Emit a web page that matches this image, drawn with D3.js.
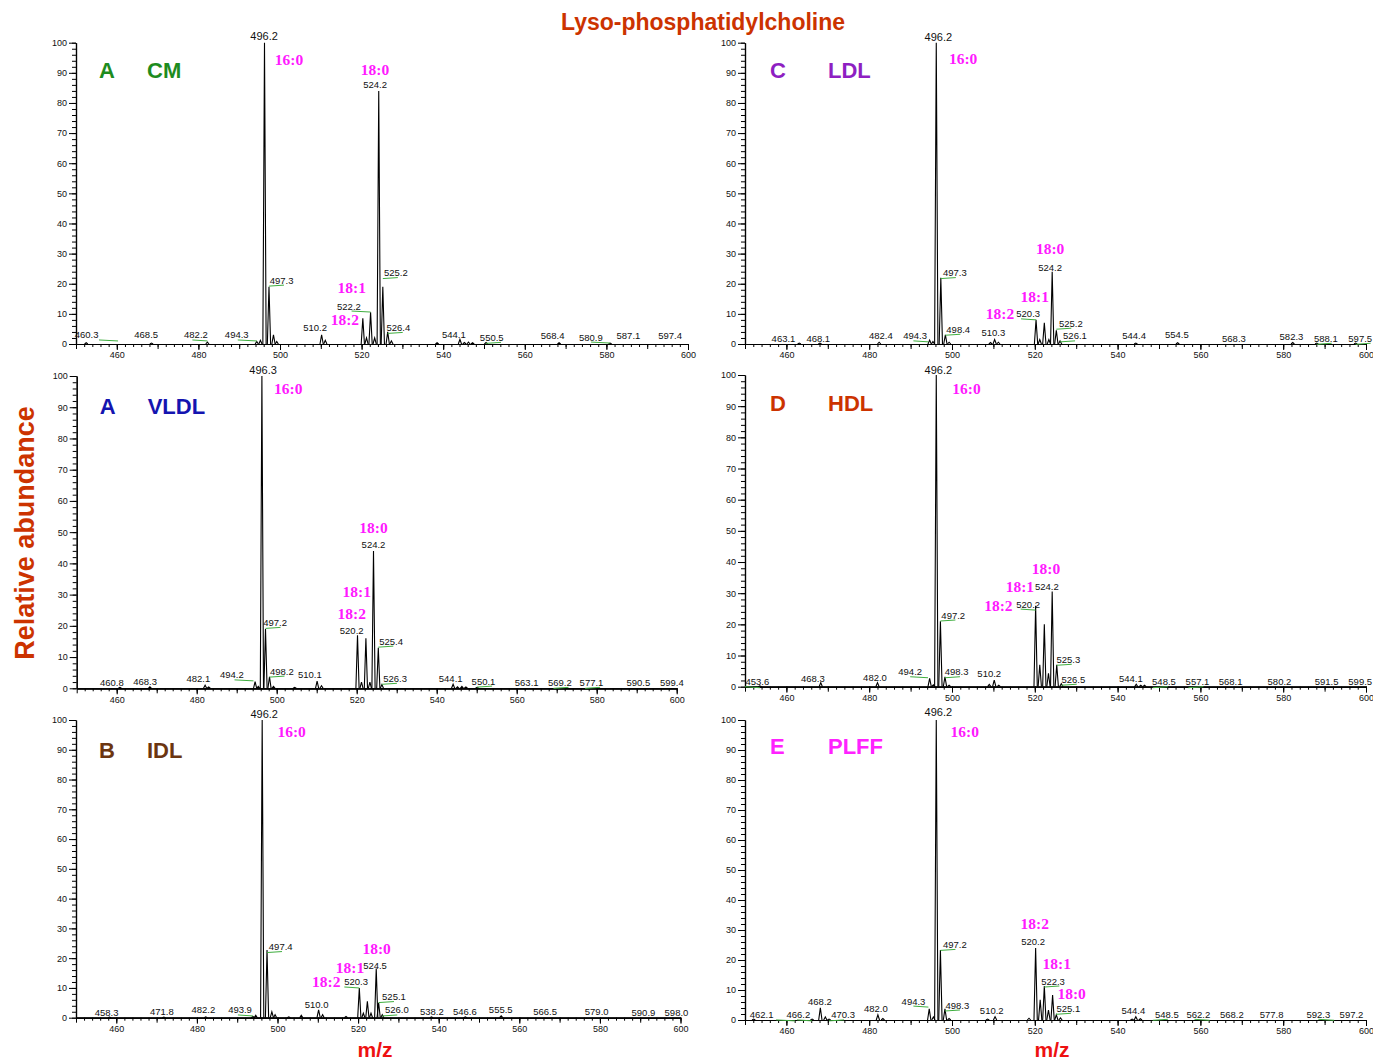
<!DOCTYPE html>
<html><head><meta charset="utf-8">
<script src="https://cdn.jsdelivr.net/npm/d3@7"></script>
<style>body{margin:0;background:#fff}</style>
</head><body>
<svg id="c" width="1373" height="1060"></svg>
<script>
// ---------- tick values ----------
const xTicks = [460,480,500,520,540,560,580,600];
const yTicks = [0,10,20,30,40,50,60,70,80,90,100];
const xDomain = [450,600];

// ---------- CM ----------
const cmPeaks = [[452.5,0.4],[468.5,0.3],[482.2,0.6],[494.3,0.8],[495.2,1.2],[496.2,100],[497.3,19],[498.4,3],[499.2,0.8],[510.2,3],[511.1,1.2],[520.3,8.5],[521.2,2],[522.2,10.5],[523.2,2],[524.2,84],[525.2,19],[526.4,4],[527.3,1],[538.5,0.4],[544.1,1.5],[545.2,0.5],[546.2,0.6],[547.2,0.4],[550.5,0.5],[568.4,0.4],[580.9,0.3]];
const cmLabels = [["496.2",496.1,102.2,0],["497.3",500.4,21.2,1],["494.3",489.4,3,1],["482.2",479.4,3,1],["468.5",467.2,3,0],["460.3",452.6,3,1],["510.2",508.6,5.5,0],["522.2",516.9,12.6,1],["524.2",523.3,86,0],["525.2",528.4,23.7,1],["526.4",529,5.5,1],["544.1",542.6,3.3,0],["550.5",551.9,2.2,1],["568.4",566.8,2.7,0],["580.9",576.2,2.3,1],["587.1",585.4,2.7,0],["597.4",595.6,2.7,0]];
const cmAcyl = [["16:0",502.2,94.5],["18:0",523.3,91.2],["18:1",517.6,18.8],["18:2",515.9,8]];

// ---------- LDL ----------
const ldlPeaks = [[463.1,0.3],[468.1,0.3],[482.4,0.6],[494.6,1.3],[495.4,0.8],[496.2,100],[497.3,22],[498.4,3],[499.3,0.6],[509.3,0.5],[510.3,1.5],[511.2,0.6],[520.3,8],[521.2,1.5],[522.3,7],[523.4,1.5],[524.2,24],[525.2,4.5],[526.1,1],[544.4,0.3],[554.5,0.4],[582.3,0.5],[588.1,0.3],[597.5,0.3]];
const ldlLabels = [["496.2",496.7,102,0],["497.3",500.7,23.7,1],["498.4",501.5,4.9,1],["494.3",491.1,2.7,1],["482.4",482.8,2.7,0],["468.1",467.7,1.9,0],["463.1",459.3,1.9,0],["510.3",510,3.8,0],["520.3",518.4,10,1],["524.2",523.7,25.5,0],["525.2",528.7,6.9,1],["526.1",529.7,2.7,1],["544.4",544,2.7,0],["554.5",554.3,3,0],["568.3",568.1,1.9,0],["582.3",582,2.4,0],["588.1",590.3,1.9,1],["597.5",598.6,1.9,1]];
const ldlAcyl = [["16:0",502.7,94.8],["18:2",511.6,10],["18:1",520,15.7],["18:0",523.7,31.8]];

// ---------- VLDL ----------
const vldlPeaks = [[460.8,0.3],[468.3,0.5],[482.1,1],[483,0.4],[494.6,2.1],[495.4,0.6],[496.3,100],[497.2,19],[498.2,3.7],[499.2,0.6],[504.5,0.3],[510.1,2.3],[511.2,0.8],[520.2,17],[521.2,2],[522.3,16],[523.3,2],[524.2,44],[525.4,13],[526.3,1.2],[544.1,1.3],[545.2,0.5],[546.3,0.6],[547.3,0.4],[550.1,0.3]];
const vldlLabels = [["496.3",496.6,101.9,0],["497.2",499.6,21.1,1],["498.2",501.3,5.5,1],["494.2",488.8,4.3,1],["482.1",480.4,3,0],["468.3",467.1,2.3,0],["460.8",458.8,1.9,0],["510.1",508.3,4.5,0],["520.2",518.75,18.5,0],["524.2",524.2,45.9,0],["525.4",528.6,15.1,1],["526.3",529.6,3.2,1],["544.1",543.5,3.2,0],["550.1",551.7,2.3,1],["563.1",562.5,1.9,0],["569.2",570.8,1.9,1],["577.1",578.7,1.9,1],["590.5",590.4,1.9,0],["599.4",598.8,1.9,0]];
const vldlAcyl = [["16:0",502.9,96],["18:2",518.75,24],["18:1",520,31],["18:0",524.2,51.4]];

// ---------- HDL ----------
const hdlPeaks = [[453.6,0.3],[468.3,1.3],[482,1.3],[494.6,2.7],[495.5,0.6],[496.2,100],[497.2,21],[498.3,3.2],[499.3,0.5],[509,0.7],[510.2,2.1],[511.3,0.5],[520.2,26],[521.2,7],[522.3,20],[523.3,4.3],[524.2,30.5],[525.3,7],[526.4,1],[544.5,0.8],[545.6,0.5],[546.5,0.5]];
const hdlLabels = [["496.2",496.7,101.7,0],["497.2",500.3,23,1],["498.3",501.1,4.8,1],["494.2",489.9,4.8,1],["482.0",481.4,3,0],["468.3",466.4,2.7,0],["453.6",453,1.6,1],["510.2",509,4.3,0],["520.2",518.4,26.5,1],["524.2",522.9,32.1,0],["525.3",528.1,8.8,1],["526.5",529.3,2.4,1],["544.1",543.2,2.7,0],["548.5",551.2,1.6,1],["557.1",559.3,1.6,1],["568.1",567.3,1.6,0],["580.2",579.1,1.6,0],["591.5",590.5,1.6,0],["599.5",598.6,1.6,0]];
const hdlAcyl = [["16:0",503.5,95.6],["18:2",511.2,26.2],["18:1",516.4,32.1],["18:0",522.7,38]];

// ---------- IDL ----------
const idlPeaks = [[458.3,0.2],[471.8,0.2],[482.2,0.3],[493.9,0.4],[494.6,0.8],[496.2,100],[497.4,22.7],[498.6,2],[499.4,1],[502.8,0.3],[505.9,0.8],[510.2,2.6],[511.2,1],[517,0.4],[520.3,10],[521.3,1.5],[522.3,5.5],[523.2,1.5],[524.5,16.5],[525.1,5],[526.0,1],[538.2,0.3],[546.6,0.3],[555.5,0.6]];
const idlLabels = [["496.2",496.7,102,0],["497.4",500.8,23.9,1],["493.9",490.7,2.6,1],["482.2",481.6,2.6,0],["471.8",471.3,2.2,0],["458.3",457.6,1.8,0],["510.0",509.7,4.3,0],["520.3",519.5,12,1],["524.5",524.2,17.7,0],["525.1",528.9,7.1,1],["526.0",529.6,2.6,1],["538.2",538.3,2.2,0],["546.6",546.5,2.2,0],["555.5",555.4,2.6,0],["566.5",566.4,2.2,0],["579.0",579.2,2.2,0],["590.9",590.8,1.8,0],["598.0",599,1.8,0]];
const idlAcyl = [["16:0",503.5,96],["18:2",512.1,12.3],["18:1",518,16.8],["18:0",524.6,23.4]];

// ---------- PLFF ----------
const plffPeaks = [[452.1,0.3],[466.2,0.3],[468.2,4.1],[469.4,1],[470.3,0.3],[482.1,1.7],[483.3,0.5],[494.5,3.7],[495.5,1],[496.2,100],[497.2,23.3],[498.3,3.7],[499.3,0.5],[508.6,0.3],[510.4,1.1],[518.6,0.6],[520.2,24],[521.3,6.7],[522.3,11.3],[523.3,3.3],[524.3,8.3],[525.2,1.7],[526.2,0.7],[543.5,0.3],[544.4,1.1],[545.5,0.4]];
const plffLabels = [["496.2",496.7,102.8,0],["497.2",500.7,25.2,1],["498.3",501.3,5,1],["494.3",490.7,6.3,1],["482.0",481.6,3.7,0],["470.3",473.7,1.7,1],["468.2",468.1,6.3,0],["466.2",462.9,1.7,1],["462.1",454,1.7,1],["510.2",509.6,3.3,0],["520.2",519.6,26.1,0],["522.3",524.4,13,1],["525.1",528.1,3.9,1],["544.4",543.8,3.3,0],["548.5",551.9,1.9,1],["562.2",559.5,1.9,1],["568.2",567.6,1.9,0],["577.8",577.2,1.9,0],["592.3",588.5,1.9,1],["597.2",596.5,1.9,0]];
const plffAcyl = [["16:0",503.1,96.1],["18:2",520,32.2],["18:1",525.3,18.9],["18:0",528.9,8.9]];

const panelLetters = ["A","C","A","D","B","E"];
const panelNames = ["CM","LDL","VLDL","HDL","IDL","PLFF"];
const panelColors = ["#1e8c1e","#8e1fc2","#1414b0","#cc3300","#6b3510","#ff22ff"];

// ---------- layout (pixels) ----------
const layout = [
  {x0:76, x1:688, yb:344, yt:42.7, lx:23, nx:71, ty:28, data:[cmPeaks,cmLabels,cmAcyl]},
  {x0:745, x1:1366, yb:344, yt:42.7, lx:25, nx:83, ty:27.3, data:[ldlPeaks,ldlLabels,ldlAcyl]},
  {x0:76.7, x1:676.7, yb:688.3, yt:376, lx:23, nx:71, ty:30.7, data:[vldlPeaks,vldlLabels,vldlAcyl]},
  {x0:745, x1:1366, yb:686.7, yt:375, lx:25, nx:83, ty:28.3, data:[hdlPeaks,hdlLabels,hdlAcyl]},
  {x0:76, x1:680.5, yb:1017.7, yt:720, lx:23, nx:71, ty:30, data:[idlPeaks,idlLabels,idlAcyl]},
  {x0:745, x1:1366, yb:1020, yt:720, lx:25, nx:83, ty:26.7, data:[plffPeaks,plffLabels,plffAcyl]}
];

const svg = d3.select("#c");
const SANS = "'Liberation Sans', Arial, sans-serif";
const SERIF = "'Liberation Serif', 'Times New Roman', serif";
const accent = "#cc3300";

svg.append("text").attr("x",703).attr("y",22).attr("text-anchor","middle").attr("dominant-baseline","central")
  .attr("font-family",SANS).attr("font-weight","bold").attr("font-size",23).attr("fill",accent)
  .text("Lyso-phosphatidylcholine");
svg.append("text").attr("transform","translate(25,533) rotate(-90)").attr("text-anchor","middle").attr("dominant-baseline","central")
  .attr("font-family",SANS).attr("font-weight","bold").attr("font-size",27).attr("fill",accent)
  .text("Relative abundance");
[375,1052].forEach(cx=>{
  svg.append("text").attr("x",cx).attr("y",1049).attr("text-anchor","middle").attr("dominant-baseline","central")
    .attr("font-family",SANS).attr("font-weight","bold").attr("font-size",21).attr("fill","#ee1111").text("m/z");
});

layout.forEach((L,i)=>{
  const [peaks,labels,acyl] = L.data;
  const x = d3.scaleLinear().domain(xDomain).range([L.x0,L.x1]);
  const y = d3.scaleLinear().domain([0,100]).range([L.yb,L.yt]);
  const g = svg.append("g");

  // axes
  g.append("g").attr("transform",`translate(${L.x0},0)`)
    .call(d3.axisLeft(y).tickValues(yTicks).tickSize(7).tickSizeOuter(0).tickPadding(2));
  g.append("g").attr("transform",`translate(${L.x0},0)`)
    .call(d3.axisLeft(y).tickValues(d3.range(0,101,2)).tickSize(4).tickSizeOuter(0).tickFormat(""));
  g.append("g").attr("transform",`translate(0,${L.yb})`)
    .call(d3.axisBottom(x).tickValues(xTicks).tickSize(6).tickSizeOuter(0).tickPadding(2));
  g.append("g").attr("transform",`translate(0,${L.yb})`)
    .call(d3.axisBottom(x).tickValues(d3.range(452,601,2)).tickSize(3).tickSizeOuter(0).tickFormat(""));
  g.append("g").attr("transform",`translate(0,${L.yb})`)
    .call(d3.axisBottom(x).tickValues(d3.range(450,601,10)).tickSize(5).tickSizeOuter(0).tickFormat(""));
  g.selectAll(".tick text").attr("font-family",SANS).attr("font-size",9).attr("fill","#111");
  g.selectAll(".domain").attr("stroke","#000").attr("stroke-width",1.2);

  // spectrum peaks
  const line = d3.line().x(d=>x(d[0])).y(d=>y(d[1]));
  const w = 0.4;
  g.selectAll("path.pk").data(peaks).enter().append("path").attr("class","pk")
    .attr("d",d=>line([[d[0]-w,0],[d[0],d[1]],[d[0]+w,0]]))
    .attr("fill","none").attr("stroke","#000").attr("stroke-width",1.1).attr("stroke-linejoin","miter");

  // green leaders
  labels.filter(d=>d[3]).forEach(d=>{
    const px = x(+d[0]), lx = x(d[1]);
    const dx = lx - px; const s = dx>=0?1:-1;
    const len = Math.min(Math.max(Math.abs(dx),15),19);
    const yy = y(d[2]) + 5;
    g.append("line").attr("x1",px).attr("x2",px+s*len).attr("y1",yy+1).attr("y2",yy)
      .attr("stroke","#3fae3f").attr("stroke-width",1);
  });

  // peak labels
  g.selectAll("text.pl").data(labels).enter().append("text").attr("class","pl")
    .attr("x",d=>x(d[1])).attr("y",d=>y(d[2])).attr("text-anchor","middle").attr("dominant-baseline","central")
    .attr("font-family",SANS).attr("font-size",d=>d[2]>100?11:9.5).attr("fill","#111").text(d=>d[0]);

  // acyl labels
  g.selectAll("text.ac").data(acyl).enter().append("text").attr("class","ac")
    .attr("x",d=>x(d[1])).attr("y",d=>y(d[2])).attr("text-anchor","middle").attr("dominant-baseline","central")
    .attr("font-family",SERIF).attr("font-weight","bold").attr("font-size",15.5).attr("fill","#ff19ff").text(d=>d[0]);

  // panel letter & name
  g.append("text").attr("x",L.x0+L.lx).attr("y",L.yt+L.ty).attr("dominant-baseline","central")
    .attr("font-family",SANS).attr("font-weight","bold").attr("font-size",22).attr("fill",panelColors[i]).text(panelLetters[i]);
  g.append("text").attr("x",L.x0+L.nx).attr("y",L.yt+L.ty).attr("dominant-baseline","central")
    .attr("font-family",SANS).attr("font-weight","bold").attr("font-size",22).attr("fill",panelColors[i]).text(panelNames[i]);
});
</script>
</body></html>
